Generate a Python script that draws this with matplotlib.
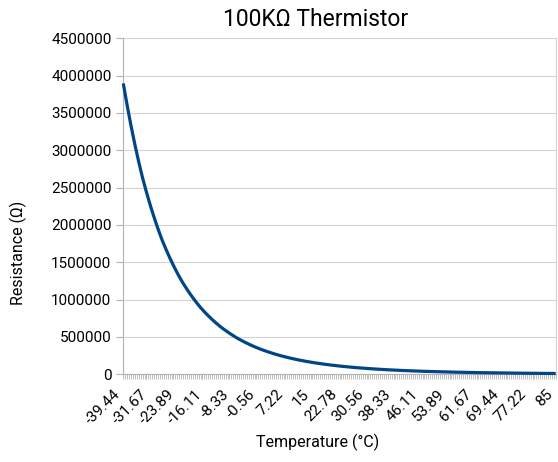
import matplotlib
matplotlib.use("Agg")
import matplotlib.pyplot as plt
from matplotlib.ticker import FuncFormatter, MultipleLocator

plt.rcParams['font.family'] = ['Roboto', 'DejaVu Sans']

title = "100KΩ Thermistor"
x_title = "Temperature (°C)"
y_title = "Resistance (Ω)"

# Temperature categories (°C)
temperatures_c = [
    -39.44, -38.89, -38.33, -37.78, -37.22, -36.67, -36.11, -35.56, -35.00,
    -34.44, -33.89, -33.33, -32.78, -32.22, -31.67, -31.11, -30.56, -30.00,
    -29.44, -28.89, -28.33, -27.78, -27.22, -26.67, -26.11, -25.56, -25.00,
    -24.44, -23.89, -23.33, -22.78, -22.22, -21.67, -21.11, -20.56, -20.00,
    -19.44, -18.89, -18.33, -17.78, -17.22, -16.67, -16.11, -15.56, -15.00,
    -14.44, -13.89, -13.33, -12.78, -12.22, -11.67, -11.11, -10.56, -10.00,
    -9.44, -8.89, -8.33, -7.78, -7.22, -6.67, -6.11, -5.56, -5.00,
    -4.44, -3.89, -3.33, -2.78, -2.22, -1.67, -1.11, -0.56, 0.00,
    0.56, 1.11, 1.67, 2.22, 2.78, 3.33, 3.89, 4.44, 5.00,
    5.56, 6.11, 6.67, 7.22, 7.78, 8.33, 8.89, 9.44, 10.00,
    10.56, 11.11, 11.67, 12.22, 12.78, 13.33, 13.89, 14.44, 15.00,
    15.56, 16.11, 16.67, 17.22, 17.78, 18.33, 18.89, 19.44, 20.00,
    20.56, 21.11, 21.67, 22.22, 22.78, 23.33, 23.89, 24.44, 25.00,
    25.56, 26.11, 26.67, 27.22, 27.78, 28.33, 28.89, 29.44, 30.00,
    30.56, 31.11, 31.67, 32.22, 32.78, 33.33, 33.89, 34.44, 35.00,
    35.56, 36.11, 36.67, 37.22, 37.78, 38.33, 38.89, 39.44, 40.00,
    40.56, 41.11, 41.67, 42.22, 42.78, 43.33, 43.89, 44.44, 45.00,
    45.56, 46.11, 46.67, 47.22, 47.78, 48.33, 48.89, 49.44, 50.00,
    50.56, 51.11, 51.67, 52.22, 52.78, 53.33, 53.89, 54.44, 55.00,
    55.56, 56.11, 56.67, 57.22, 57.78, 58.33, 58.89, 59.44, 60.00,
    60.56, 61.11, 61.67, 62.22, 62.78, 63.33, 63.89, 64.44, 65.00,
    65.56, 66.11, 66.67, 67.22, 67.78, 68.33, 68.89, 69.44, 70.00,
    70.56, 71.11, 71.67, 72.22, 72.78, 73.33, 73.89, 74.44, 75.00,
    75.56, 76.11, 76.67, 77.22, 77.78, 78.33, 78.89, 79.44, 80.00,
    80.56, 81.11, 81.67, 82.22, 82.78, 83.33, 83.89, 84.44, 85.00,
]

# Resistance (ohm)
resistance_ohm = [
    3895800, 3745500, 3601000, 3462100, 3328500, 3200100, 3076600, 2957900, 2843800, 2734100,
    2628700, 2531800, 2438500, 2348600, 2262000, 2178600, 2098300, 2021000, 1946500, 1874800,
    1805600, 1742000, 1680600, 1621400, 1564200, 1509100, 1455900, 1404600, 1355100, 1307300,
    1261100, 1218500, 1177400, 1137600, 1099200, 1062100, 1026200, 991600, 958100, 925800,
    894600, 865700, 837700, 810600, 784400, 759000, 734500, 710700, 687700, 665500,
    644000, 624000, 604700, 585900, 567700, 550100, 533000, 516500, 500500, 485000,
    469900, 455900, 442300, 429200, 416400, 404000, 392000, 380300, 369000, 358000,
    347400, 337500, 327800, 318400, 309300, 300500, 291900, 283500, 275400, 267600,
    259900, 252700, 245800, 239000, 232500, 226100, 219900, 213800, 207900, 202200,
    196600, 191400, 186300, 181400, 176600, 171900, 167400, 163000, 158700, 154500,
    150400, 146600, 142900, 139200, 135700, 132200, 128800, 125600, 122400, 119300,
    116200, 113300, 110500, 107800, 105200, 102600, 100100, 97600, 95200, 92900,
    90600, 88500, 86400, 84300, 82300, 80400, 78500, 76600, 74800, 73000,
    71300, 69700, 68100, 66500, 65000, 63500, 62100, 60700, 59300, 57900,
    56600, 55400, 54200, 53000, 51800, 50700, 49600, 48500, 47400, 46400,
    45300, 44300, 43400, 42500, 41600, 40700, 39800, 39000, 38100, 37300,
    36600, 35800, 35100, 34400, 33700, 33000, 32300, 31600, 31000, 30300,
    29700, 29100, 28500, 28000, 27400, 26900, 26300, 25800, 25300, 24800,
    24300, 23800, 23400, 22900, 22500, 22000, 21600, 21200, 20800, 20400,
    20000, 19600, 19300, 18900, 18600, 18200, 17900, 17500, 17200, 16900,
    16600, 16300, 16000, 15700, 15400, 15100, 14900, 14600, 14300, 14100,
    13800, 13600, 13300, 13100, 12900, 12600, 12400, 12200, 12000, 11800,
    11600, 11400, 11200, 11000, 10800,
]

label_every = 14
y_max = 4500000
y_step = 500000

W, H = 558, 462
fig = plt.figure(figsize=(W / 100, H / 100), dpi=100)
left, right, top, bottom = 123.3, 555.7, 38.3, 374.3
ax = fig.add_axes([left / W, 1 - bottom / H, (right - left) / W, (bottom - top) / H])

n = min(len(temperatures_c), len(resistance_ohm))
xs = list(range(n))
ax.plot(xs, resistance_ohm[:n], color='#004586', lw=2.3, solid_capstyle='butt',
        solid_joinstyle='round', zorder=3, clip_on=False)

ax.set_xlim(0, n - 1)
ax.set_ylim(0, y_max)
ax.yaxis.set_major_locator(MultipleLocator(y_step))
ax.yaxis.set_major_formatter(FuncFormatter(lambda v, p: f"{int(round(v))}"))

ax.set_xticks(xs)
xlabels = [f"{temperatures_c[i]:g}" if i % label_every == 0 else "" for i in xs]
ax.set_xticklabels(xlabels, rotation=45, ha='right', va='top')

ax.grid(axis='y', color='#d4d4d4', lw=0.8, zorder=0)
ax.set_axisbelow(True)

ax.spines['top'].set_visible(False)
ax.spines['right'].set_color('#d4d4d4')
ax.spines['right'].set_linewidth(0.8)
for s in ['left', 'bottom']:
    ax.spines[s].set_color('#b3b3b3')
    ax.spines[s].set_linewidth(0.8)

ax.tick_params(axis='x', length=3.6, width=0.6, color='#b3b3b3', pad=5.5,
               labelsize=11, labelcolor='black')
ax.tick_params(axis='y', length=5, width=0.8, color='#b3b3b3', pad=3.5,
               labelsize=11, labelcolor='black')

fig.text(315.5 / W, 1 - 26 / H, title, ha='center', va='baseline', fontsize=16.5, color='black')
fig.text(317.5 / W, 1 - 447 / H, x_title, ha='center', va='baseline', fontsize=11.5, color='black')
fig.text(18 / W, 1 - 252.5 / H, y_title, ha='center', va='center', rotation=90,
         fontsize=11.5, color='black')

fig.savefig("out.png", dpi=100)
